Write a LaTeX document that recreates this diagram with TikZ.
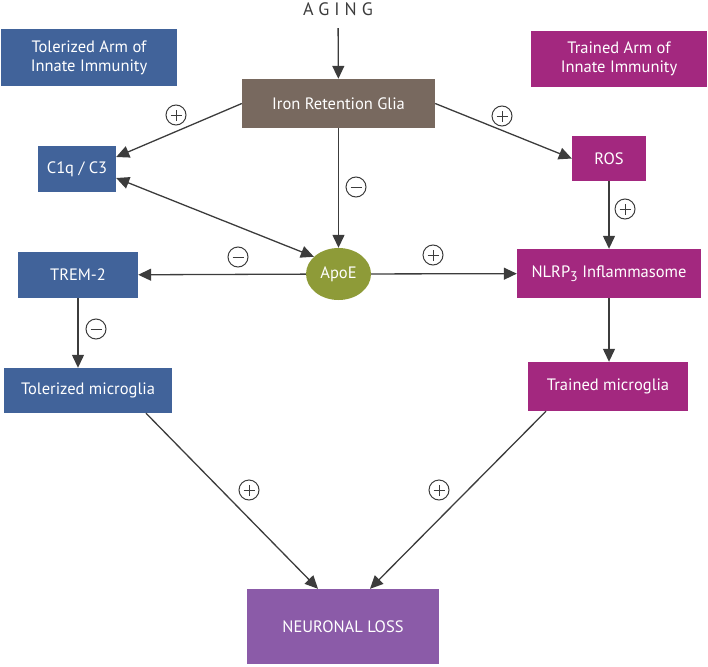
\documentclass[tikz,border=0pt]{standalone}
\usepackage{fontspec}
\setsansfont{PT Sans}[Numbers=Lining]
\usepackage{xcolor}
\usetikzlibrary{arrows, arrows.meta, shapes.geometric}
\definecolor{tolblue}{HTML}{41639A}
\definecolor{trainmag}{HTML}{A3287F}
\definecolor{ironbrown}{HTML}{78695F}
\definecolor{apoegreen}{HTML}{8E9B38}
\definecolor{losspurple}{HTML}{8B5BA8}
\definecolor{linegray}{HTML}{3C3C3C}
\tikzset{
    >={Triangle[length=13pt,width=12pt]}, % big filled heads
    box/.style={rectangle, text=white, font=\sffamily\fontsize{16.5}{19}\selectfont, align=center, inner sep=0pt}, % every coloured box
    signnode/.style={circle, draw=linegray, line width=1pt, minimum size=20pt, inner sep=0pt}, % the + / - marks
    plussign/.style={signnode, path picture={
        \draw[linegray, line width=1pt] ([xshift=-5.5pt]path picture bounding box.center) -- ([xshift=5.5pt]path picture bounding box.center);
        \draw[linegray, line width=1pt] ([yshift=-5.5pt]path picture bounding box.center) -- ([yshift=5.5pt]path picture bounding box.center);}},
    minussign/.style={signnode, path picture={
        \draw[linegray, line width=1pt] ([xshift=-5.5pt]path picture bounding box.center) -- ([xshift=5.5pt]path picture bounding box.center);}},
}
\tikzstyle{arrow} = [line width=1.3pt, draw=linegray, ->]
\tikzstyle{biarrow} = [line width=1.3pt, draw=linegray, <->]

\begin{document}
\begin{tikzpicture}[x=1pt, y=-1pt]
    \useasboundingbox (0,0) rectangle (708,666);
    % title
    \node (aging) at (338,9) {\sffamily\addfontfeatures{LetterSpace=28}\fontsize{18}{20}\selectfont\color{linegray}AGING};
    % legend boxes
    \node[box, fill=tolblue, minimum width=176pt, minimum height=57pt] (tolarm) at (89,57.5) {Tolerized Arm of\\Innate Immunity};
    \node[box, fill=trainmag, minimum width=176pt, minimum height=56pt] (trainarm) at (619,59) {Trained Arm of\\Innate Immunity};
    % main nodes
    \node[box, fill=ironbrown, minimum width=193pt, minimum height=49pt] (iron) at (338.5,103.5) {Iron Retention Glia};
    \node[box, fill=tolblue, minimum width=78pt, minimum height=46pt] (c1q) at (77,169) {C1q / C3};
    \node[box, fill=trainmag, minimum width=74pt, minimum height=45pt] (ros) at (609,158.5) {ROS};
    \node[box, ellipse, fill=apoegreen, minimum width=65pt, minimum height=52pt] (apoe) at (338.5,274) {ApoE};
    \node[box, fill=tolblue, minimum width=120pt, minimum height=46pt] (trem) at (78,275) {TREM-2};
    \node[box, fill=trainmag, minimum width=184pt, minimum height=49pt] (nlrp) at (609,273.5) {NLRP\raisebox{-4pt}{\fontsize{14}{16}\selectfont 3} Inflammasome};
    \node[box, fill=tolblue, minimum width=168pt, minimum height=45pt] (tolmic) at (88,390.5) {Tolerized microglia};
    \node[box, fill=trainmag, minimum width=160pt, minimum height=49pt] (trmic) at (608,386.5) {Trained microglia};
    \node[box, fill=losspurple, minimum width=192pt, minimum height=75pt] (loss) at (343,626.5) {NEURONAL LOSS};

    % connectors
    \draw[arrow, shorten <=9pt] (aging) -- (iron);
    \draw[arrow] (iron.west) -- ([yshift=12pt]c1q.east);
    \draw[arrow] (iron.east) -- (ros.west);
    \draw[arrow] (iron) -- (apoe);
    \draw[biarrow] ([yshift=-9pt]c1q.east) -- (apoe.145);
    \draw[arrow] (apoe) -- (trem);
    \draw[arrow] (apoe) -- (nlrp);
    \draw[arrow] (ros) -- (ros |- nlrp.north);
    \draw[arrow] (trem) -- (trem |- tolmic.north);
    \draw[arrow] (nlrp) -- (nlrp |- trmic.north);
    \draw[arrow] ([xshift=58pt]tolmic.south) -- ([xshift=-25pt]loss.north);
    \draw[arrow] ([xshift=-62pt]trmic.south) -- ([xshift=27pt]loss.north);

    % signs
    \node[plussign] (s1) at (176,115) {};
    \node[plussign] (s2) at (502,116) {};
    \node[minussign] (s3) at (356,187) {};
    \node[plussign] (s4) at (625,209) {};
    \node[minussign] (s5) at (238,257) {};
    \node[plussign] (s6) at (433,255) {};
    \node[minussign] (s7) at (96,329) {};
    \node[plussign] (s8) at (249,490) {};
    \node[plussign] (s9) at (439,490) {};
\end{tikzpicture}
\end{document}
